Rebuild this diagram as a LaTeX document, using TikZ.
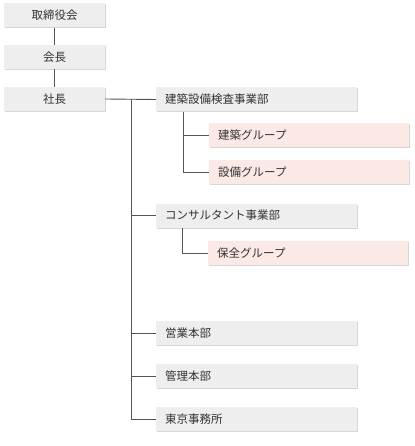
\documentclass[tikz,border=0pt]{standalone}
\usepackage{fontspec}
\setmainfont{Noto Sans CJK JP}
\usetikzlibrary{shadows}
\definecolor{boxgray}{HTML}{EEEEEE}
\definecolor{boxpink}{HTML}{FBE9E5}
\definecolor{linegray}{HTML}{555555}
\definecolor{txt}{HTML}{333333}
\tikzset{
  base/.style={draw=none, inner ysep=0pt, minimum height=24pt, text=txt,
    font=\fontsize{11.5pt}{13pt}\selectfont,
    drop shadow={shadow xshift=0.9pt, shadow yshift=-1pt, fill=black, opacity=0.16}},
  topbox/.style={base, fill=boxgray, minimum width=101pt, inner xsep=0pt},
  deptbox/.style={base, fill=boxgray, text width=183pt, inner xsep=9pt, align=left, anchor=west},
  grpbox/.style={base, fill=boxpink, text width=182pt, inner xsep=9pt, align=left, anchor=west},
  conn/.style={draw=linegray, line width=0.9pt}
}
\begin{document}
\begin{tikzpicture}[x=1pt,y=-1pt]
\useasboundingbox (0,0) rectangle (414,446);
\node[topbox] (b1) at (54.5,15.5) {取締役会};
\node[topbox] (b2) at (54.5,57) {会長};
\node[topbox] (b3) at (54.5,99) {社長};
\node[deptbox] (d1) at (156,99.5) {建築設備検査事業部};
\node[grpbox] (g1) at (209,135.5) {建築グループ};
\node[grpbox] (g2) at (209,172.5) {設備グループ};
\node[deptbox] (d2) at (156,215.5) {コンサルタント事業部};
\node[grpbox] (g3) at (208,253) {保全グループ};
\node[deptbox] (d3) at (156,333) {営業本部};
\node[deptbox] (d4) at (156,376) {管理本部};
\node[deptbox] (d5) at (156,419) {東京事務所};
\coordinate (t0) at (131,99);
\coordinate (t5) at (131,419);
\begin{scope}[on background layer/.style={}]
\draw[conn] (b1.south) -- (b2.north);
\draw[conn] (b2.south) -- (b3.north);
\draw[conn] (b3.east) -- (d1.west);
\draw[conn] (t0) -- (t5) -- (d5.west);
\draw[conn] (131,215.5) -- (d2.west);
\draw[conn] (131,333) -- (d3.west);
\draw[conn] (131,376) -- (d4.west);
\draw[conn] (183,112) |- (g2.west);
\draw[conn] (183,135.5) -- (g1.west);
\draw[conn] (182,228) |- (g3.west);
\end{scope}
\end{tikzpicture}
\end{document}
